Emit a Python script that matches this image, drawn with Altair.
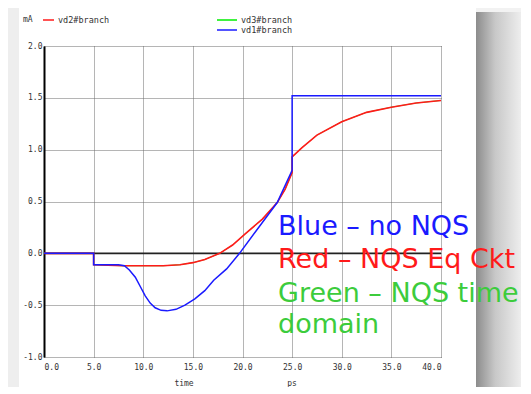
import altair as alt
import pandas as pd

# ---- data ----
blue_t = [0, 5, 5, 7.5, 8.1, 8.6, 9.2, 9.7, 10.2, 10.7, 11.2, 11.8, 12.4, 13.3, 14.2, 15.2, 16.2, 17.1, 18.4, 19.7, 21.4, 23.5, 25, 25, 40]
blue_v = [0, 0, -0.11, -0.11, -0.12, -0.16, -0.23, -0.32, -0.41, -0.48, -0.525, -0.55, -0.555, -0.54, -0.50, -0.44, -0.36, -0.26, -0.15, 0.0, 0.22, 0.49, 0.80, 1.52, 1.52]

red_t = [0, 5, 5, 8, 10, 12, 13.7, 15, 16.2, 17.7, 19, 20.3, 22, 23.5, 24.3, 25, 25, 26, 27.5, 30, 32.5, 35, 37.5, 40]
red_v = [0, 0, -0.11, -0.12, -0.12, -0.12, -0.11, -0.09, -0.06, 0.0, 0.08, 0.19, 0.33, 0.49, 0.62, 0.78, 0.93, 1.02, 1.14, 1.27, 1.36, 1.41, 1.45, 1.475]

green_t = [0, 5, 5, 8, 10, 12, 13.7, 15, 16.2, 17.7, 19, 20.3, 22, 23.5, 24.3, 25, 25, 26, 27.5, 30, 32.5, 35, 37.5, 40]
green_v = [0, 0, -0.11, -0.12, -0.12, -0.12, -0.11, -0.09, -0.06, 0.0, 0.08, 0.19, 0.33, 0.49, 0.62, 0.78, 0.93, 1.02, 1.14, 1.27, 1.36, 1.41, 1.45, 1.475]

x_ticks = [0, 5, 10, 15, 20, 25, 30, 35, 40]
y_ticks = [-1.0, -0.5, 0.0, 0.5, 1.0, 1.5, 2.0]

series_names = ["vd3#branch", "vd2#branch", "vd1#branch"]
series_colors = ["#00ee00", "#ff1a1a", "#1a1aff"]

notes = ["Blue – no NQS", "Red – NQS Eq Ckt", "Green – NQS time", "domain"]
note_colors = ["#1a1aff", "#ff1a1a", "#3ccc3c", "#3ccc3c"]

# ---- layout ----
W, H = 397, 311
mono = "DejaVu Sans Mono"


def frame(t, v, name):
    return pd.DataFrame({"t": t, "v": v, "s": name, "i": range(len(t))})


def one():
    return alt.Chart(pd.DataFrame({"a": [0]}))


x_scale = alt.Scale(domain=[0, 40], nice=False, zero=False)
y_scale = alt.Scale(domain=[-1, 2], nice=False, zero=False)

lab = "replace(format(datum.value, '.1f'), '\u2212', '-')"

x_axis = alt.Axis(values=x_ticks, labelExpr=lab, title=None, grid=True, gridColor="#6a6a6a",
                  gridDash=[1, 1], gridWidth=1, domain=False, ticks=False, labelFont=mono,
                  labelFontSize=8, labelColor="#333333", labelPadding=6)
y_axis = alt.Axis(values=y_ticks, labelExpr=lab, title=None, grid=True, gridColor="#6a6a6a",
                  gridDash=[1, 1], gridWidth=1, domain=True, domainColor="#000000", domainWidth=2,
                  ticks=False, labelFont=mono, labelFontSize=8, labelColor="#333333", labelPadding=2)

# background pieces (decoration)
left_strip = one().mark_rect(color="#eeeeee").encode(
    x=alt.value(-40), x2=alt.value(-25), y=alt.value(-40), y2=alt.value(360))
shadow = one().mark_rect(
    color=alt.LinearGradient(gradient="linear", x1=0, x2=1, y1=0, y2=0,
                             stops=[alt.GradientStop(color="#8c8c8c", offset=0),
                                    alt.GradientStop(color="#c8c8c8", offset=0.4),
                                    alt.GradientStop(color="#f2f2f2", offset=1)])).encode(
    x=alt.value(432), x2=alt.value(480), y=alt.value(-34), y2=alt.value(360))
top_right = one().mark_rect(color="#f2f2f2").encode(
    x=alt.value(432), x2=alt.value(480), y=alt.value(-40), y2=alt.value(-34))

base = alt.Chart(frame(red_t, red_v, "r"))
axes = base.mark_line(opacity=0).encode(
    x=alt.X("t:Q", scale=x_scale, axis=x_axis),
    y=alt.Y("v:Q", scale=y_scale, axis=y_axis))

zero = one().mark_rule(color="#222222", strokeWidth=1.6).encode(
    y=alt.datum(0, scale=y_scale), x=alt.value(0), x2=alt.value(W))


def line(t, v, name, color, w):
    return alt.Chart(frame(t, v, name)).mark_line(color=color, strokeWidth=w, interpolate="linear").encode(
        x=alt.X("t:Q", scale=x_scale), y=alt.Y("v:Q", scale=y_scale), order="i:Q")


lines = [line(green_t, green_v, series_names[0], series_colors[0], 0.8),
         line(red_t, red_v, series_names[1], series_colors[1], 1.6),
         line(blue_t, blue_v, series_names[2], series_colors[2], 1.5)]

# header legend
leg_rows = pd.DataFrame({
    "name": ["vd2#branch", "vd3#branch", "vd1#branch"],
    "color": ["#ff1a1a", "#00ee00", "#1a1aff"],
    "x0": [-1, 173, 173], "x1": [10, 193, 193], "y": [-26, -26, -16]})
leg_layers = []
for _, r in leg_rows.iterrows():
    leg_layers.append(one().mark_rule(color=r["color"], strokeWidth=1.5).encode(
        x=alt.value(r["x0"]), x2=alt.value(r["x1"]), y=alt.value(r["y"])))
    leg_layers.append(one().mark_text(
        text=r["name"], font=mono, fontSize=8.5, color="#333333", align="left", baseline="middle").encode(
        x=alt.value(r["x1"] + 4), y=alt.value(r["y"])))
unit = one().mark_text(
    text="mA", font=mono, fontSize=8, color="#333333", align="left", baseline="middle").encode(
    x=alt.value(-21), y=alt.value(-26))
xt1 = one().mark_text(
    text="time", font=mono, fontSize=8, color="#333333", align="center", baseline="middle").encode(
    x=alt.value(140), y=alt.value(338))
xt2 = one().mark_text(
    text="ps", font=mono, fontSize=8, color="#333333", align="center", baseline="middle").encode(
    x=alt.value(248), y=alt.value(338))

note_layers = []
ys = [189, 222, 256, 287]
for txt, col, yy in zip(notes, note_colors, ys):
    note_layers.append(one().mark_text(
        text=txt, font="DejaVu Sans", fontSize=27, color=col, align="left", baseline="alphabetic").encode(
        x=alt.value(234), y=alt.value(yy)))

chart = alt.layer(left_strip, shadow, top_right, axes, zero, *lines, *leg_layers, unit, xt1, xt2,
                  *note_layers).properties(
    width=W, height=H,
    autosize=alt.AutoSizeParams(type="none"),
    padding={"left": 36, "top": 38, "right": 80, "bottom": 30},
    background="white",
).configure_view(stroke=None)

chart.save("out.html", embed_options={"renderer": "svg", "actions": False})
